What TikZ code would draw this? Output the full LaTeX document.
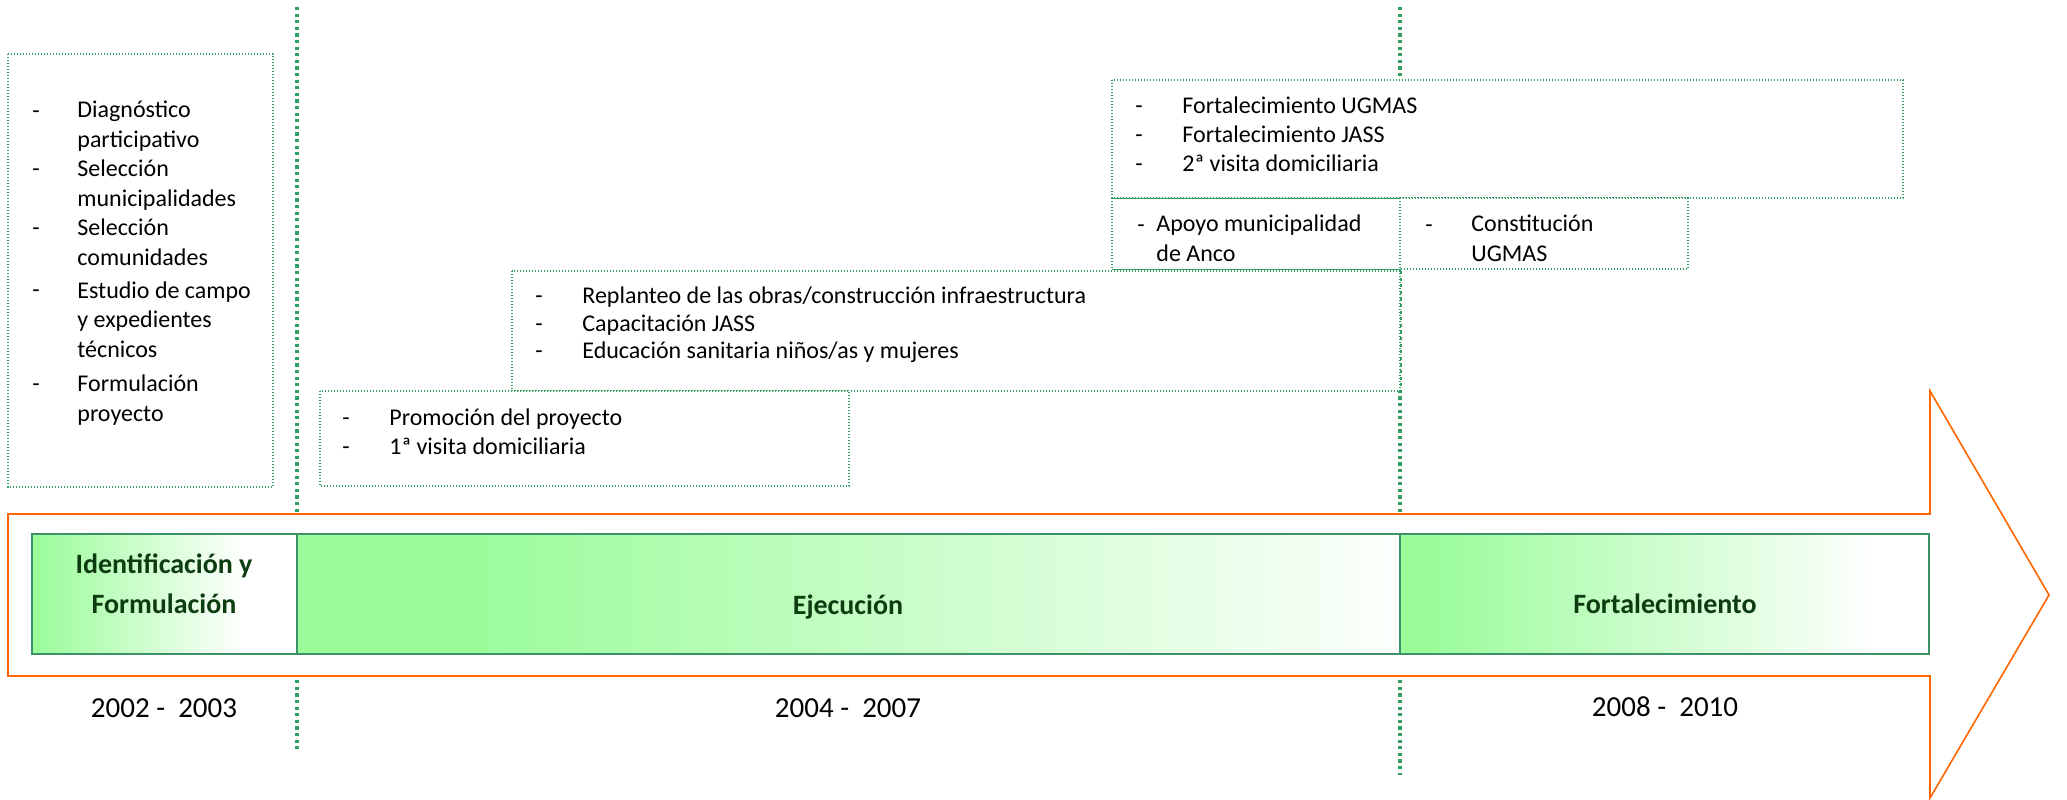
\documentclass[tikz,border=0pt]{standalone}
\usepackage{fontspec}
\setmainfont{Carlito}
\usepackage{tikz}
\usetikzlibrary{calc}

\definecolor{lineGreen}{RGB}{50,158,100}
\definecolor{barLine}{RGB}{60,145,105}
\definecolor{barGreen}{RGB}{155,252,155}
\definecolor{barText}{RGB}{12,60,15}
\definecolor{arrowOrange}{RGB}{255,102,0}

\pgfdeclarehorizontalshading{fadeshort}{100bp}{color(0bp)=(barGreen); color(26bp)=(barGreen); color(65bp)=(white); color(100bp)=(white)}
\pgfdeclarehorizontalshading{fadelong}{100bp}{color(0bp)=(barGreen); color(33bp)=(barGreen); color(76bp)=(white); color(100bp)=(white)}
\pgfdeclarehorizontalshading{fadeend}{100bp}{color(0bp)=(barGreen); color(28bp)=(barGreen); color(70bp)=(white); color(100bp)=(white)}

\begin{document}
\begin{tikzpicture}[x=0.5pt,y=-0.5pt]
          \tikzset{
            phase/.style={draw=lineGreen, line width=1.6pt, dash pattern=on 1.6pt off 1.7pt},
            taskbox/.style={fill=white, draw=lineGreen, line width=0.6pt, dash pattern=on 0.6pt off 0.9pt},
            dashmark/.style={anchor=base west, inner sep=0pt, font=\fontsize{12}{14.75}\selectfont},
            task/.style={anchor=base west, inner sep=0pt, align=left, font=\fontsize{12}{14.75}\selectfont},
            stage/.style={anchor=base, inner sep=0pt, align=center, text=barText, font=\fontsize{14}{20}\selectfont\bfseries},
            years/.style={anchor=base, inner sep=0pt, font=\fontsize{14.5}{17}\selectfont}
          }
          \useasboundingbox (0,0) rectangle (2067,799);

          %separadores entre fases
          \coordinate (S1) at (297,7);
          \coordinate (S1') at (297,751);
          \coordinate (S2) at (1400,7);
          \coordinate (S2') at (1400,775);
          \draw[phase] (S1) -- (S1');
          \draw[phase] (S2) -- (S2');

          %cajas de actividades
          \draw[taskbox] (8,54) rectangle (273,487);
          \draw[taskbox] (512,271) rectangle (1400,391);
          \draw[taskbox] (320,391) rectangle (849,486);
          \draw[taskbox] (1112,80) rectangle (1903,198);
          \fill[white] (1112,198) rectangle (1400,269);
          \draw[lineGreen, line width=0.4pt] (1112,198) -- (1400,198) -- (1400,269) -- (1112,269);
          \draw[taskbox] (1112,198) -- (1112,269);
          \draw[taskbox] (1400,198) rectangle (1688,269);

          %identificacion (multi-line nodes sit on their last line)
          \node[dashmark] (d11) at (32,118) {-};
          \node[task] (t11) at (77,147) {Diagnóstico\\participativo};
          \node[dashmark] (d12) at (32,176) {-};
          \node[task] (t12) at (77,206) {Selección\\municipalidades};
          \node[dashmark] (d13) at (32,235) {-};
          \node[task] (t13) at (77,265) {Selección\\comunidades};
          \node[dashmark] (d14) at (32,297) {-};
          \node[task] (t14) at (77,357) {Estudio de campo\\y expedientes\\técnicos};
          \node[dashmark] (d15) at (32,391) {-};
          \node[task] (t15) at (77,421) {Formulación\\proyecto};

          %ejecucion
          \node[dashmark] (d21) at (342,425) {-};
          \node[task] (t21) at (389,425) {Promoción del proyecto};
          \node[dashmark] (d22) at (342,454) {-};
          \node[task] (t22) at (389,454) {1ª visita domiciliaria};
          \node[dashmark] (d31) at (535,303) {-};
          \node[task] (t31) at (582,303) {Replanteo de las obras/construcción infraestructura};
          \node[dashmark] (d32) at (535,331) {-};
          \node[task] (t32) at (582,331) {Capacitación JASS};
          \node[dashmark] (d33) at (535,358) {-};
          \node[task] (t33) at (582,358) {Educación sanitaria niños/as y mujeres};
          \node[dashmark] (d41) at (1137,232) {-};
          \node[task] (t41) at (1156,261) {Apoyo municipalidad\\de Anco};

          %fortalecimiento
          \node[dashmark] (d51) at (1135,113) {-};
          \node[task] (t51) at (1182,113) {Fortalecimiento UGMAS};
          \node[dashmark] (d52) at (1135,142) {-};
          \node[task] (t52) at (1182,142) {Fortalecimiento JASS};
          \node[dashmark] (d53) at (1135,171) {-};
          \node[task] (t53) at (1182,171) {2ª visita domiciliaria};
          \node[dashmark] (d61) at (1425,232) {-};
          \node[task] (t61) at (1471,261) {Constitución\\UGMAS};

          %flecha del tiempo
          \draw[arrowOrange, fill=white, line width=0.8pt] (8,514) -- (1930,514) -- (1930,391) -- (2049,595) -- (1930,798) -- (1930,676) -- (8,676) -- cycle;

          %barra de fases
          \shade[shading=fadeshort] (32,534) rectangle (297,654);
          \shade[shading=fadelong] (297,534) rectangle (1400,654);
          \shade[shading=fadeend] (1400,534) rectangle (1929,654);
          \draw[barLine, line width=0.8pt] (32,534) rectangle (1929,654);
          \draw[barLine, line width=0.8pt] (297,534) -- (297,654);
          \draw[barLine, line width=0.8pt] (1400,534) -- (1400,654);

          \node[stage] (F1) at (164,613) {Identificación y\\Formulación};
          \node[stage] (F2) at (848,614) {Ejecución};
          \node[stage] (F3) at (1665,613) {Fortalecimiento};
          \node[years] (A1) at (164,717) {2002 -~ 2003};
          \node[years] (A2) at (848,717) {2004 -~ 2007};
          \node[years] (A3) at (1665,716) {2008 -~ 2010};
\end{tikzpicture}
\end{document}
